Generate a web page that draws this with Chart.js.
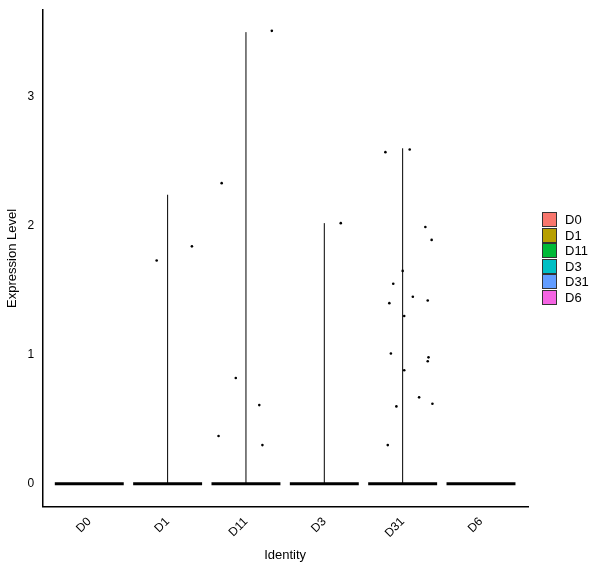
<!DOCTYPE html>
<html>
<head>
<script src="https://cdn.jsdelivr.net/npm/chart.js@4"></script>
<style>
body { margin: 0; background: #fff; font-family: Arial, "Liberation Sans", sans-serif; }
#wrap { position: relative; width: 600px; height: 568px; }
#legend { position: absolute; left: 542px; top: 212px; font-size: 13px; color: #000; }
#legend div { display: flex; align-items: center; height: 15.5px; }
#legend span.box { width: 13px; height: 13px; border: 1px solid #333; margin-right: 8px; display: inline-block; }
</style>
</head>
<body>
<div id="wrap">
<canvas id="c" width="600" height="568"></canvas>
<div id="legend"></div>
</div>
<script>
const categories = ['D0', 'D1', 'D11', 'D3', 'D31', 'D6'];
const colors = ['#F8766D', '#B79F00', '#00BA38', '#00BFC4', '#619CFF', '#F564E3'];
const violinMax = [0, 2.24, 3.5, 2.02, 2.6, 0];
const yTicks = [0, 1, 2, 3];

// non-zero jittered cells: [position on category axis, expression]
const pointsD1 = [[0.86, 1.73], [1.31, 1.84]];
const pointsD11 = [[2.33, 3.51], [1.69, 2.33], [1.87, 0.82], [1.65, 0.37], [2.17, 0.61], [2.21, 0.30]];
const pointsD3 = [[3.21, 2.02]];
const pointsD31 = [[3.78, 2.57], [4.09, 2.59], [4.29, 1.99], [4.37, 1.89], [3.88, 1.55], [4.0, 1.65],
  [3.83, 1.40], [4.13, 1.45], [4.32, 1.42], [4.02, 1.30], [3.85, 1.01], [4.33, 0.98], [4.32, 0.95],
  [4.02, 0.88], [4.21, 0.67], [3.92, 0.60], [4.38, 0.62], [3.81, 0.30]];

const datasets = [];
categories.forEach((c, i) => {
  datasets.push({ type: 'line', data: [{x: i - 0.44, y: 0}, {x: i + 0.44, y: 0}],
    borderColor: '#000', borderWidth: 3, pointRadius: 0 });
  if (violinMax[i] > 0) {
    datasets.push({ type: 'line', data: [{x: i, y: 0}, {x: i, y: violinMax[i]}],
      borderColor: '#000', borderWidth: 1, pointRadius: 0 });
  }
});
const allPoints = [].concat(pointsD1, pointsD11, pointsD3, pointsD31);
datasets.push({ type: 'scatter', data: allPoints.map(p => ({x: p[0], y: p[1]})),
  pointRadius: 1.3, backgroundColor: '#000', borderWidth: 0 });

new Chart(document.getElementById('c'), {
  type: 'scatter',
  data: { datasets: datasets },
  options: {
    responsive: false, animation: false,
    layout: { padding: { top: 0, right: 72, left: 1, bottom: 1 } },
    plugins: { legend: { display: false }, tooltip: { enabled: false } },
    scales: {
      x: {
        type: 'linear', min: -0.6, max: 5.6,
        afterBuildTicks: s => { s.ticks = categories.map((c, i) => ({ value: i })); },
        ticks: { callback: v => categories[v], color: '#000', font: { size: 12 }, maxRotation: 45, minRotation: 45 },
        grid: { display: false, drawTicks: true, tickLength: 5, tickColor: '#000' },
        border: { color: '#000', width: 1.5 },
        title: { display: true, text: 'Identity', color: '#000', font: { size: 13 } }
      },
      y: {
        min: -0.177, max: 3.67,
        afterBuildTicks: s => { s.ticks = yTicks.map(v => ({ value: v })); },
        ticks: { color: '#000', font: { size: 12 } },
        grid: { display: false, drawTicks: true, tickLength: 5, tickColor: '#000' },
        border: { color: '#000', width: 1.5 },
        title: { display: true, text: 'Expression Level', color: '#000', font: { size: 13 } }
      }
    }
  }
});

const leg = document.getElementById('legend');
categories.forEach((c, i) => {
  const d = document.createElement('div');
  d.innerHTML = '<span class="box" style="background:' + colors[i] + '"></span>' + c;
  leg.appendChild(d);
});
</script>
</body>
</html>
